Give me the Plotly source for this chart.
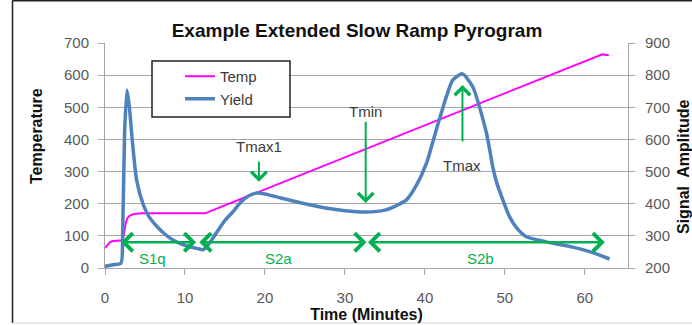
import plotly.graph_objects as go

# Temperature programme (left axis, deg)
temp_time = [0, 0.3, 0.6, 1.0, 1.6, 2.2, 2.4, 2.6, 2.8, 3.1, 3.6, 4.5, 12.5, 62.2, 63.0]
temp_vals = [62, 72, 80, 84, 85.5, 86, 110, 140, 155, 163, 168, 170, 170, 665, 662]

# Detector yield (right axis, signal amplitude)
yield_time = [0, 1, 2.0, 2.2, 2.45, 2.75, 3.05, 3.4, 3.95, 4.8, 5.5, 6.5, 7.5, 8.5, 9.5,
              10.6, 11.5, 12.3, 13.0, 14, 15, 16, 17, 18, 19, 20, 22, 25, 28, 30, 32.7,
              35, 36.5, 37.7, 39, 40.2, 41.9, 43.5, 44.7, 46, 47.7, 48.5, 49, 50.6, 51.5,
              52.7, 55, 58.5, 61, 63.1]
yield_vals = [205, 210, 215, 300, 620, 754, 700, 600, 474, 396, 360, 329, 305, 287, 275,
              266, 261, 257, 275, 312, 348, 375, 405, 425, 433, 430, 418, 400, 385, 378, 374,
              380, 395, 412, 460, 526, 670, 785, 804, 763, 620, 514, 464, 359, 324,
              297, 282, 265, 248, 228]

# Segment spans drawn as double arrows along the temperature axis
seg_names = ["S1q", "S2a", "S2b"]
seg_start = [1.8, 11.6, 32.7]
seg_end = [11.4, 32.7, 62.5]
seg_level = 80
seg_label_x = [6.0, 21.7, 46.9]
seg_label_y = 31

# Marker arrows for characteristic temperatures (left-axis units)
mark_names = ["Tmax1", "Tmin", "Tmax"]
mark_x = [19.25, 32.6, 44.7]
mark_tail = [336, 460, 389]
mark_head = [268, 202, 569]
mark_label_y = [378, 488, 320]

x_ticks = [0, 10, 20, 30, 40, 50, 60]

FONT = "Liberation Sans, Arial, sans-serif"
GREEN = "#00B050"
GRID = "#A6A6A6"
TICK_TXT = "#595959"
TITLE_TXT = "#111111"

fig = go.Figure()
fig.add_trace(go.Scatter(x=temp_time, y=temp_vals, name="Temp", mode="lines",
                         line=dict(color="#FF00FF", width=2)))
fig.add_trace(go.Scatter(x=yield_time, y=yield_vals, name="Yield", mode="lines", yaxis="y2",
                         line=dict(color="#4F81BD", width=3.5, shape="spline", smoothing=0.6)))

L, R, T, B = 105, 64, 43, 57
PW, PH = 692 - L - R, 325 - T - B


def px_x(p):
    return (p - L) / PW


def px_y(p):
    return (325 - B - p) / PH


annotations = []
for s, e in zip(seg_start, seg_end):
    annotations.append(dict(x=e, y=seg_level, ax=s, ay=seg_level, xref="x", yref="y",
                            axref="x", ayref="y", text="", showarrow=True,
                            arrowside="end+start", arrowhead=4, startarrowhead=4,
                            arrowsize=1.4, startarrowsize=1.4, arrowwidth=2.5, arrowcolor=GREEN))
for name, lx in zip(seg_names, seg_label_x):
    annotations.append(dict(x=lx, y=seg_label_y, xref="x", yref="y", text=name,
                            showarrow=False, font=dict(family=FONT, size=15, color=GREEN)))
for name, mx, tail, head, ly in zip(mark_names, mark_x, mark_tail, mark_head, mark_label_y):
    annotations.append(dict(x=mx, y=head, ax=mx, ay=tail, xref="x", yref="y",
                            axref="x", ayref="y", text="", showarrow=True, arrowhead=4,
                            arrowsize=1.5, arrowwidth=2, arrowcolor=GREEN))
    annotations.append(dict(x=mx, y=ly, xref="x", yref="y", text=name, showarrow=False,
                            font=dict(family=FONT, size=15, color="#3A3A3A")))

# Vertical axis titles
annotations.append(dict(x=px_x(36), y=px_y(136), xref="paper", yref="paper",
                        xanchor="center", yanchor="middle",
                        text="<b>Temperature</b>", textangle=-90, showarrow=False,
                        font=dict(family=FONT, size=16, color=TITLE_TXT)))
annotations.append(dict(x=px_x(683), y=px_y(167), xref="paper", yref="paper",
                        xanchor="center", yanchor="middle",
                        text="<b>Signal  Amplitude</b>", textangle=-90, showarrow=False,
                        font=dict(family=FONT, size=16, color=TITLE_TXT)))

shapes = [
    # outer chart frame
    dict(type="line", xref="paper", yref="paper", x0=px_x(12.5), x1=px_x(12.5),
         y0=px_y(0.5), y1=px_y(323), line=dict(color="#222222", width=1.5)),
    dict(type="line", xref="paper", yref="paper", x0=px_x(12.5), x1=px_x(700),
         y0=px_y(0.8), y1=px_y(0.8), line=dict(color="#222222", width=1.5)),
    dict(type="line", xref="paper", yref="paper", x0=px_x(12.5), x1=px_x(700),
         y0=px_y(323), y1=px_y(323), line=dict(color="#D0D0D0", width=1)),
    # legend frame
    dict(type="rect", xref="paper", yref="paper", x0=px_x(152), x1=px_x(290),
         y0=px_y(117), y1=px_y(61), fillcolor="white", layer="above",
         line=dict(color="#222222", width=1.5)),
]

fig.update_layout(
    width=692, height=325,
    margin=dict(l=L, r=R, t=T, b=B, autoexpand=False),
    paper_bgcolor="white", plot_bgcolor="white",
    font=dict(family=FONT, color=TICK_TXT),
    title=dict(text="<b>Example Extended Slow Ramp Pyrogram</b>", x=357 / 692, xanchor="center",
               y=1 - 30 / 325, yanchor="middle", yref="container",
               font=dict(family=FONT, size=19, color=TITLE_TXT)),
    showlegend=True,
    legend=dict(x=px_x(180), y=px_y(60), xanchor="left", yanchor="top",
                bgcolor="rgba(0,0,0,0)", borderwidth=0,
                font=dict(family=FONT, size=15, color="#3A3A3A"), itemwidth=30),
    xaxis=dict(range=[0, 65.4], tickvals=x_ticks, showgrid=False, zeroline=False,
               automargin=False,
               showline=True, linecolor=GRID, linewidth=1, ticks="outside", ticklen=6,
               tickcolor=GRID, tickfont=dict(size=15, color=TICK_TXT), ticklabelstandoff=10,
               title=dict(text="<b>Time (Minutes)</b>", standoff=0,
                          font=dict(family=FONT, size=16, color=TITLE_TXT))),
    yaxis=dict(range=[0, 700], dtick=100, showgrid=True, gridcolor=GRID, gridwidth=1,
               automargin=False,
               zeroline=False, showline=True, linecolor=GRID, linewidth=1, ticks="outside",
               ticklen=6, tickcolor=GRID, tickfont=dict(size=15, color=TICK_TXT),
               ticklabelstandoff=6),
    yaxis2=dict(range=[200, 900], dtick=100, overlaying="y", side="right", showgrid=False,
                automargin=False,
                zeroline=False, showline=True, linecolor=GRID, linewidth=1, ticks="outside",
                ticklen=6, tickcolor=GRID, tickfont=dict(size=15, color=TICK_TXT),
                ticklabelstandoff=7),
    annotations=annotations,
    shapes=shapes,
)

fig.write_html("out.html")
